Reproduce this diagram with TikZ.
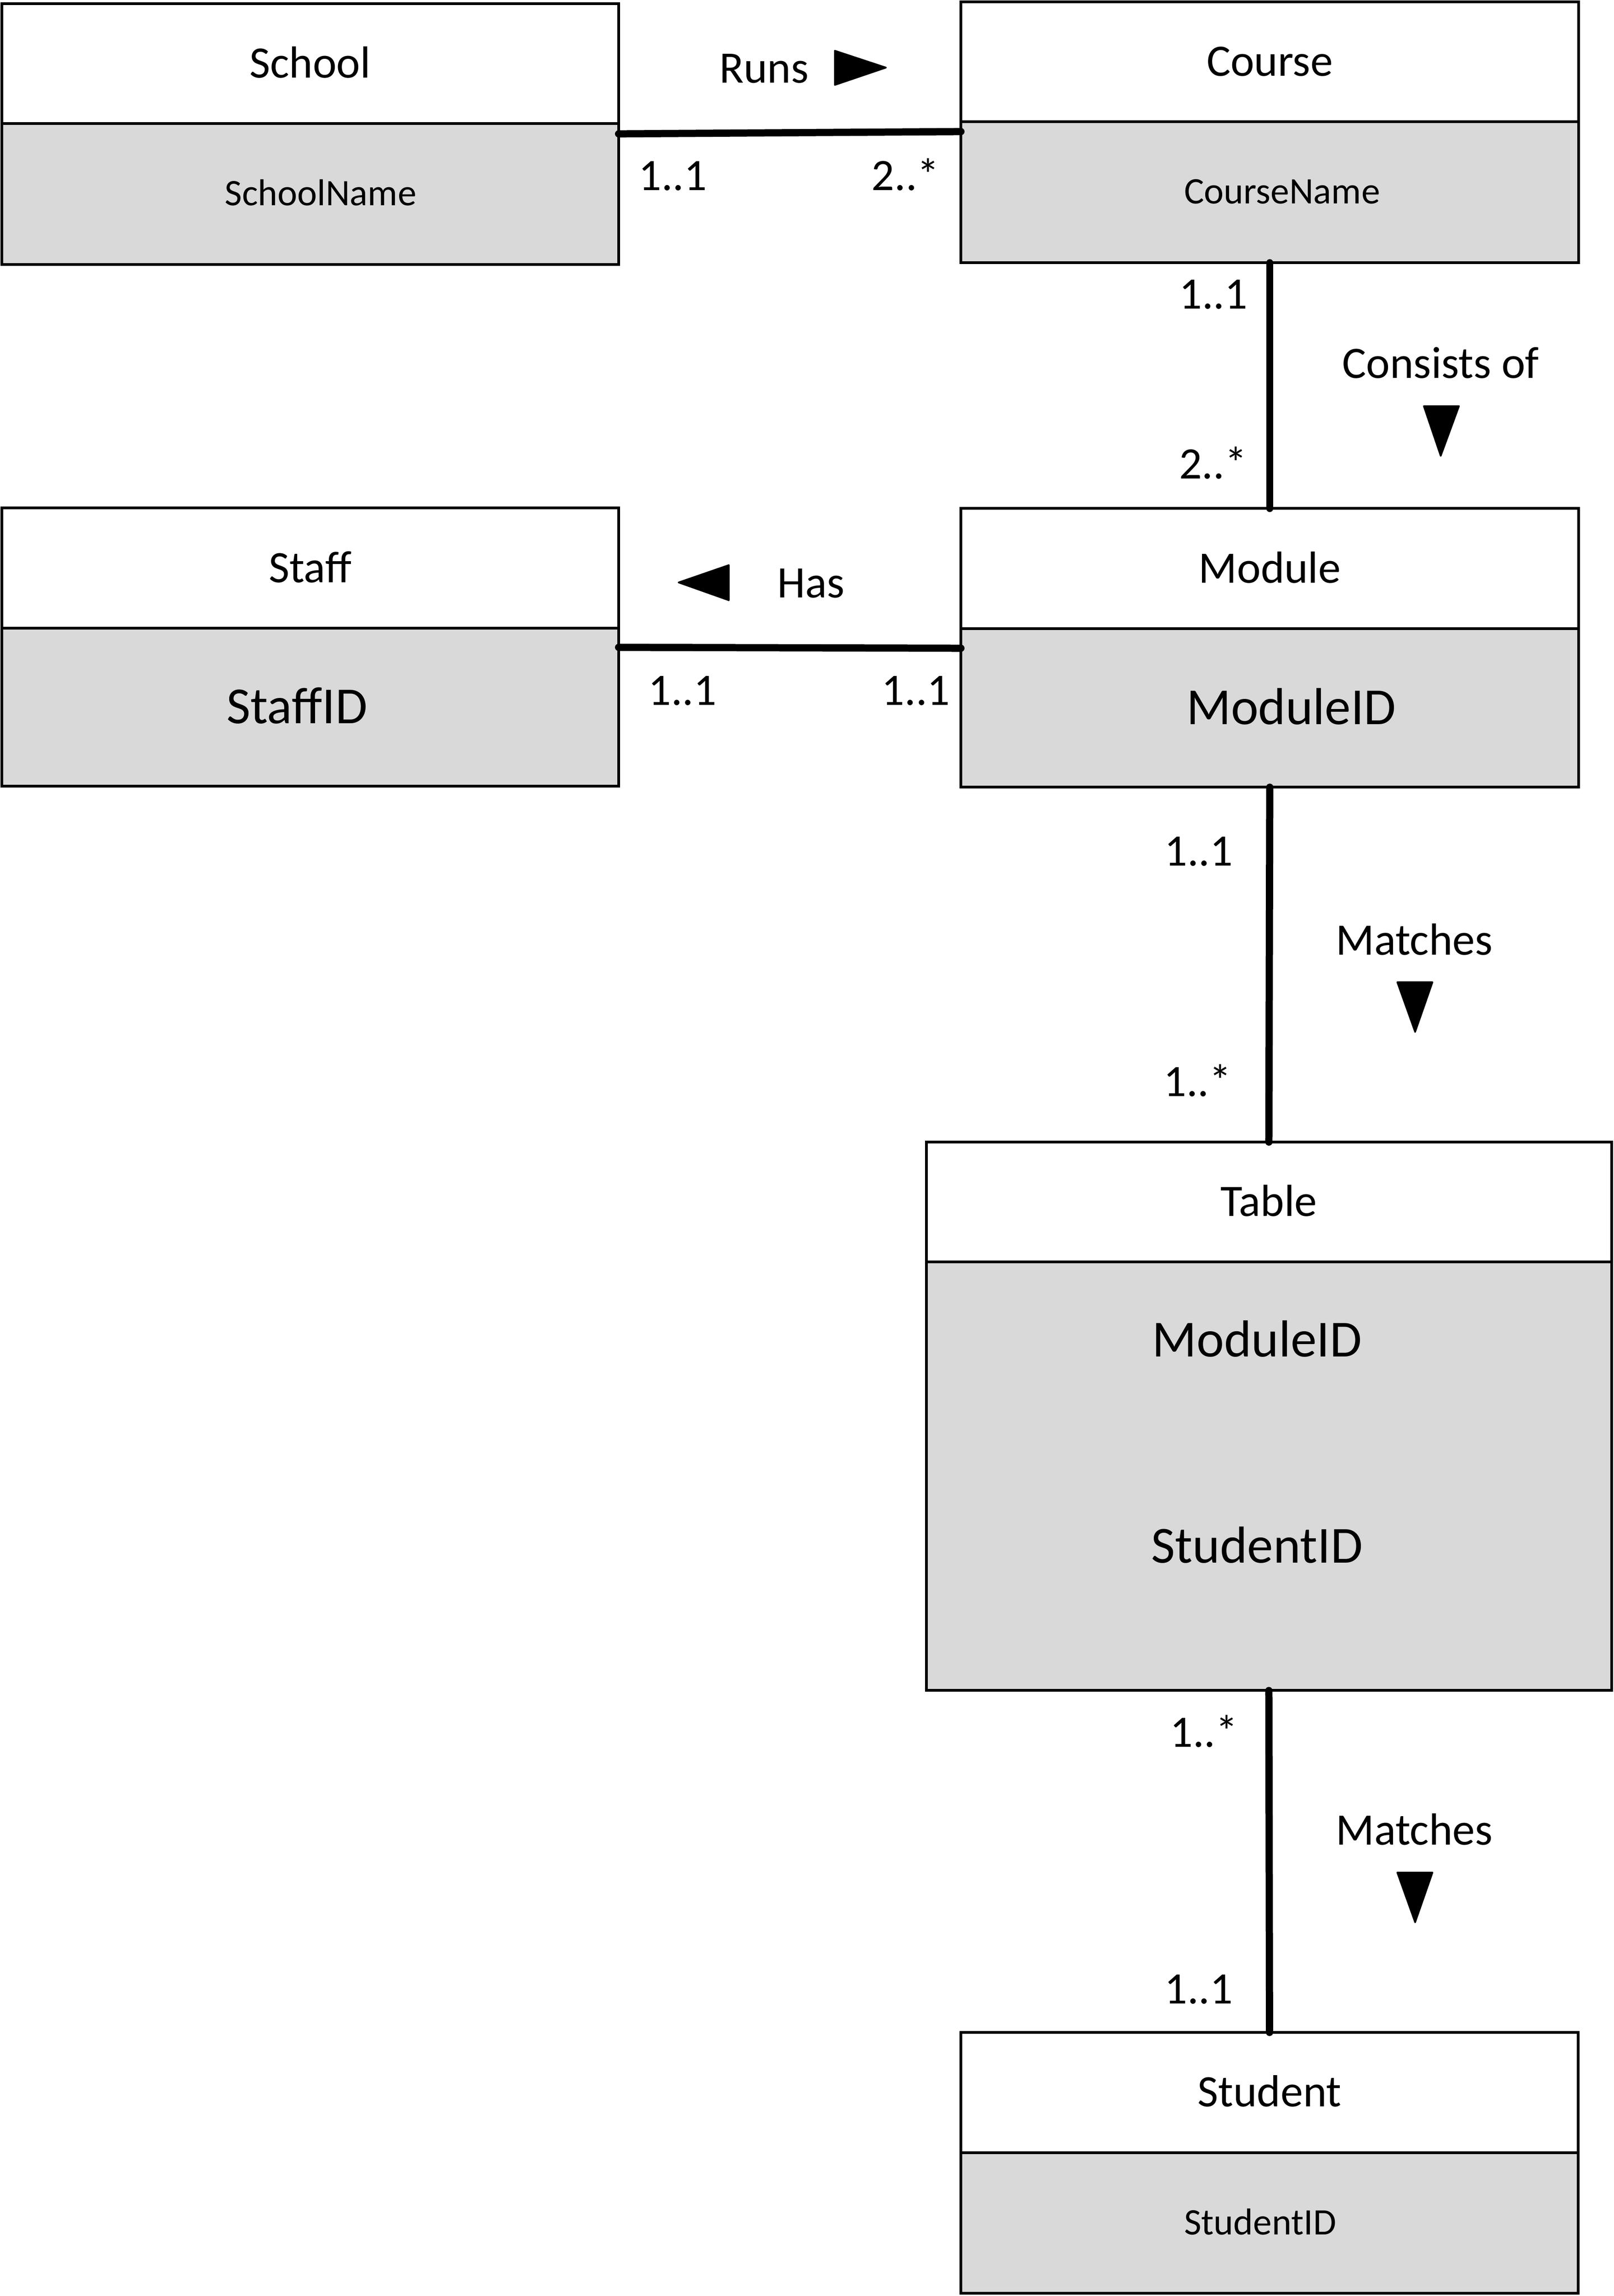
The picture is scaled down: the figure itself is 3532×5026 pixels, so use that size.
\documentclass[tikz,border=0pt]{standalone}
\usepackage{fontspec}
\setmainfont{Carlito}
\usetikzlibrary{calc}
\definecolor{boxgray}{HTML}{D9D9D9}
\begin{document}
\begin{tikzpicture}[x=0.01cm,y=-0.01cm,
  boxline/.style={draw=black,line width=1.7pt,inner sep=0pt,outer sep=0pt,anchor=north west},
  hdr/.style={boxline,fill=white,font=\fontsize{28}{34}\selectfont,text height=17.7pt,text depth=0pt},
  bodybox/.style={boxline,fill=boxgray},
  smalltxt/.style={inner sep=0pt,font=\fontsize{23.3}{28}\selectfont,text height=14.7pt,text depth=0pt},
  largetxt/.style={inner sep=0pt,font=\fontsize{32.4}{38}\selectfont,text height=20.5pt,text depth=0pt},
  lbl/.style={inner sep=0pt,font=\fontsize{28}{34}\selectfont},
  conn/.style={line width=4.5pt,line cap=round},
  tri/.style={fill=black,draw=black,line width=1pt,line join=round}]
\useasboundingbox (0,0) rectangle (3532,5026);
% School
\node[bodybox,minimum width=13.49cm,minimum height=3.09cm] (schoolB) at (4,270) {};
\node[hdr,minimum width=13.49cm,minimum height=2.62cm] (schoolH) at (4,8) {School};
\node[smalltxt] (schoolA) at (702,424) {SchoolName};
% Course
\node[bodybox,minimum width=13.51cm,minimum height=3.09cm] (courseB) at (2103,266) {};
\node[hdr,minimum width=13.51cm,minimum height=2.62cm] (courseH) at (2103,4) {Course};
\node[smalltxt] (courseA) at (2806,420) {CourseName};
% Staff
\node[bodybox,minimum width=13.49cm,minimum height=3.46cm] (staffB) at (4,1375) {};
\node[hdr,minimum width=13.49cm,minimum height=2.63cm] (staffH) at (4,1112) {Staff};
\node[largetxt] (staffA) at (650,1548) {StaffID};
% Module
\node[bodybox,minimum width=13.51cm,minimum height=3.47cm] (moduleB) at (2103,1376) {};
\node[hdr,minimum width=13.51cm,minimum height=2.63cm] (moduleH) at (2103,1113) {Module};
\node[largetxt] (moduleA) at (2826,1550) {ModuleID};
% Table
\node[bodybox,minimum width=14.99cm,minimum height=9.38cm] (tableB) at (2027,2762) {};
\node[hdr,minimum width=14.99cm,minimum height=2.62cm] (tableH) at (2027,2500) {Table};
\node[largetxt] (tableA1) at (2751,2934) {ModuleID};
\node[largetxt] (tableA2) at (2751,3385) {StudentID};
% Student
\node[bodybox,minimum width=13.50cm,minimum height=3.08cm] (studentB) at (2103,4712) {};
\node[hdr,minimum width=13.50cm,minimum height=2.63cm] (studentH) at (2103,4449) {Student};
\node[smalltxt] (studentA) at (2758,4866) {StudentID};
% connectors
\draw[conn] ($(schoolB.north east)+(0,23)$) -- ($(courseB.north west)+(0,22)$);
\draw[conn] ($(staffB.north east)+(0,42)$) -- ($(moduleB.north west)+(0,43)$);
\draw[conn] (courseB.south) -- (moduleH.north);
\draw[conn] (moduleB.south) -- (tableH.north);
\draw[conn] (tableB.south) -- (studentH.north);
% labels: Runs
\node[lbl,anchor=base] (runs) at (1672,181) {Runs};
\draw[tri] (1827,111) -- (1939,148) -- (1827,186) -- cycle;
\node[lbl,anchor=base west] (m1) at (1397,417) {1..1};
\node[lbl,anchor=base east] (m2) at (2057,417) {2..*};
% Consists of
\node[lbl,anchor=base east] (m3) at (2731,676) {1..1};
\node[lbl,anchor=base east] (m4) at (2730,1048) {2..*};
\node[lbl,anchor=base] (consists) at (3153,828) {Consists of};
\draw[tri] (3116,889) -- (3193,889) -- (3153,998) -- cycle;
% Has
\node[lbl,anchor=base] (has) at (1775,1308) {Has};
\draw[tri] (1595,1237) -- (1485,1275) -- (1595,1314) -- cycle;
\node[lbl,anchor=base west] (m5) at (1418,1543) {1..1};
\node[lbl,anchor=base east] (m6) at (2080,1543) {1..1};
% Matches 1
\node[lbl,anchor=base east] (m7) at (2699,1895) {1..1};
\node[lbl,anchor=base east] (m8) at (2696,2400) {1..*};
\node[lbl,anchor=base] (matches1) at (3095,2090) {Matches};
\draw[tri] (3058,2150) -- (3135,2150) -- (3097,2259) -- cycle;
% Matches 2
\node[lbl,anchor=base east] (m9) at (2710,3824) {1..*};
\node[lbl,anchor=base east] (m10) at (2699,4386) {1..1};
\node[lbl,anchor=base] (matches2) at (3095,4038) {Matches};
\draw[tri] (3058,4099) -- (3135,4099) -- (3097,4208) -- cycle;
\end{tikzpicture}
\end{document}
